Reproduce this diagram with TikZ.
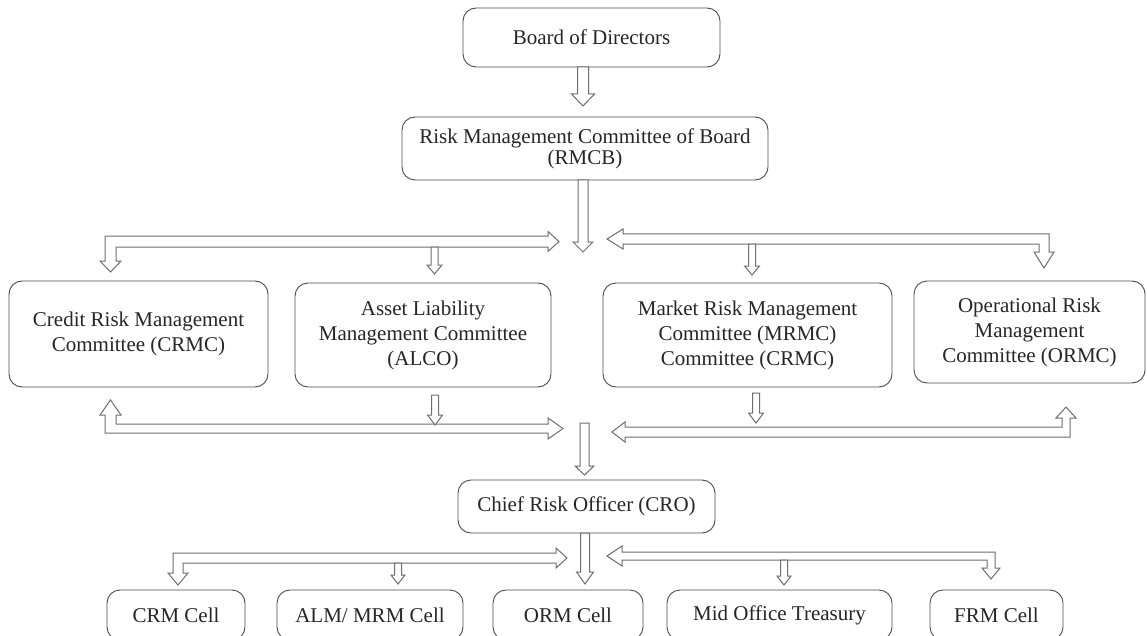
\documentclass[tikz,border=0pt]{standalone}
\usepackage{fontspec}
\setmainfont{Liberation Serif}
\definecolor{boxc}{HTML}{4A4A4A}
\definecolor{arrc}{HTML}{6E6E6E}
\definecolor{txt}{HTML}{262626}
\tikzset{
  orgbox/.style={draw=boxc, rounded corners=13pt, line width=0.9pt, align=center,
    inner sep=0pt, text=txt, font=\fontsize{21}{25}\selectfont},
  barrow/.style={draw=arrc, fill=white, line width=1pt, line join=miter},
}
% x, ytop, ytip, shaft width, head width, head length
\newcommand{\blockdn}[6]{%
  \draw[barrow] ({#1-#4/2},#2) -- ({#1+#4/2},#2) -- ({#1+#4/2},{#3-#6}) -- ({#1+#5/2},{#3-#6})
    -- (#1,#3) -- ({#1-#5/2},{#3-#6}) -- ({#1-#4/2},{#3-#6}) -- cycle;}
\begin{document}
\begin{tikzpicture}[x=1pt,y=-1pt]
\clip (0,0) rectangle (1147,636);
\fill[white] (0,0) rectangle (1147,636);

% top
\node[orgbox, minimum width=257pt, minimum height=59pt] (bod) at (591.5,37.5) {Board of Directors};
\node[orgbox, minimum width=366pt, minimum height=63pt, font=\fontsize{21}{21}\selectfont] (rmcb) at (585,148.5)
  {Risk Management Committee of Board\\(RMCB)};

% committees
\node[orgbox, minimum width=259pt, minimum height=106pt] (crmc) at (138.5,334)
  {Credit Risk Management\\Committee (CRMC)};
\node[orgbox, minimum width=256pt, minimum height=104pt] (alco) at (423,335)
  {Asset Liability\\Management Committee\\(ALCO)};
\node[orgbox, minimum width=289pt, minimum height=104pt] (mrmc) at (747.5,335)
  {Market Risk Management\\Committee (MRMC)\\Committee (CRMC)};
\node[orgbox, minimum width=231pt, minimum height=102pt] (ormc) at (1029.5,332)
  {Operational Risk\\Management\\Committee (ORMC)};

% CRO
\node[orgbox, minimum width=257pt, minimum height=53pt] (cro) at (586.5,506.5) {Chief Risk Officer (CRO)};

% cells
\node[orgbox, minimum width=138pt, minimum height=50pt] (crm) at (176,615) {CRM Cell};
\node[orgbox, minimum width=186pt, minimum height=50pt] (alm) at (370,615) {ALM/ MRM Cell};
\node[orgbox, minimum width=150pt, minimum height=50pt] (orm) at (568,615) {ORM Cell};
\node[orgbox, minimum width=225pt, minimum height=50pt] (mot) at (779.5,615) {Mid Office Treasury};
\node[orgbox, minimum width=133pt, minimum height=50pt] (frm) at (996.5,615) {FRM Cell};

% Board -> RMCB
\blockdn{583}{67}{106}{11}{23}{12}
% RMCB -> centre
\blockdn{583}{180}{252}{10}{20}{10}

% row 1 distribution arrows
\draw[barrow] (559,241.5) -- (548,231.5) -- (548,236) -- (105,236) -- (105,261) -- (100,261)
  -- (110.5,272) -- (121,261) -- (116,261) -- (116,247) -- (548,247) -- (548,251.5) -- cycle;
\draw[barrow] (607,239) -- (623,229) -- (623,234) -- (1049,234) -- (1049,252) -- (1054,252)
  -- (1044,268) -- (1034,252) -- (1039,252) -- (1039,244) -- (623,244) -- (623,249) -- cycle;
\blockdn{434.5}{247}{274}{7}{15}{9}
\blockdn{752}{244}{275}{7}{15}{9}

% row 2 collecting arrows
\draw[barrow] (110.5,400) -- (121,415) -- (116,415) -- (116,424) -- (548,424) -- (548,418)
  -- (563,428.5) -- (548,439) -- (548,433) -- (105,433) -- (105,415) -- (100,415) -- cycle;
\draw[barrow] (612,432) -- (625,422) -- (625,427) -- (1062,427) -- (1062,418) -- (1056,418)
  -- (1066,407) -- (1076,418) -- (1070,418) -- (1070,437) -- (625,437) -- (625,442) -- cycle;
\blockdn{435}{395}{425}{7}{15}{10}
\blockdn{756}{393}{423}{7}{15}{10}
\blockdn{584.5}{423}{475}{9}{19}{9}

% row 3 arrows
\blockdn{585}{533}{584}{9}{17}{12}
\draw[barrow] (567,558) -- (556,548) -- (556,553) -- (173,553) -- (173,573) -- (168,573)
  -- (178,585) -- (188,573) -- (183,573) -- (183,563) -- (556,563) -- (556,568) -- cycle;
\draw[barrow] (607,556) -- (622,546) -- (622,552) -- (995,552) -- (995,568) -- (1000,568)
  -- (991,579) -- (982,568) -- (987,568) -- (987,560) -- (622,560) -- (622,566) -- cycle;
\blockdn{398}{563}{584}{7}{14}{9}
\blockdn{784}{560}{585}{7}{14}{9}
\end{tikzpicture}
\end{document}
